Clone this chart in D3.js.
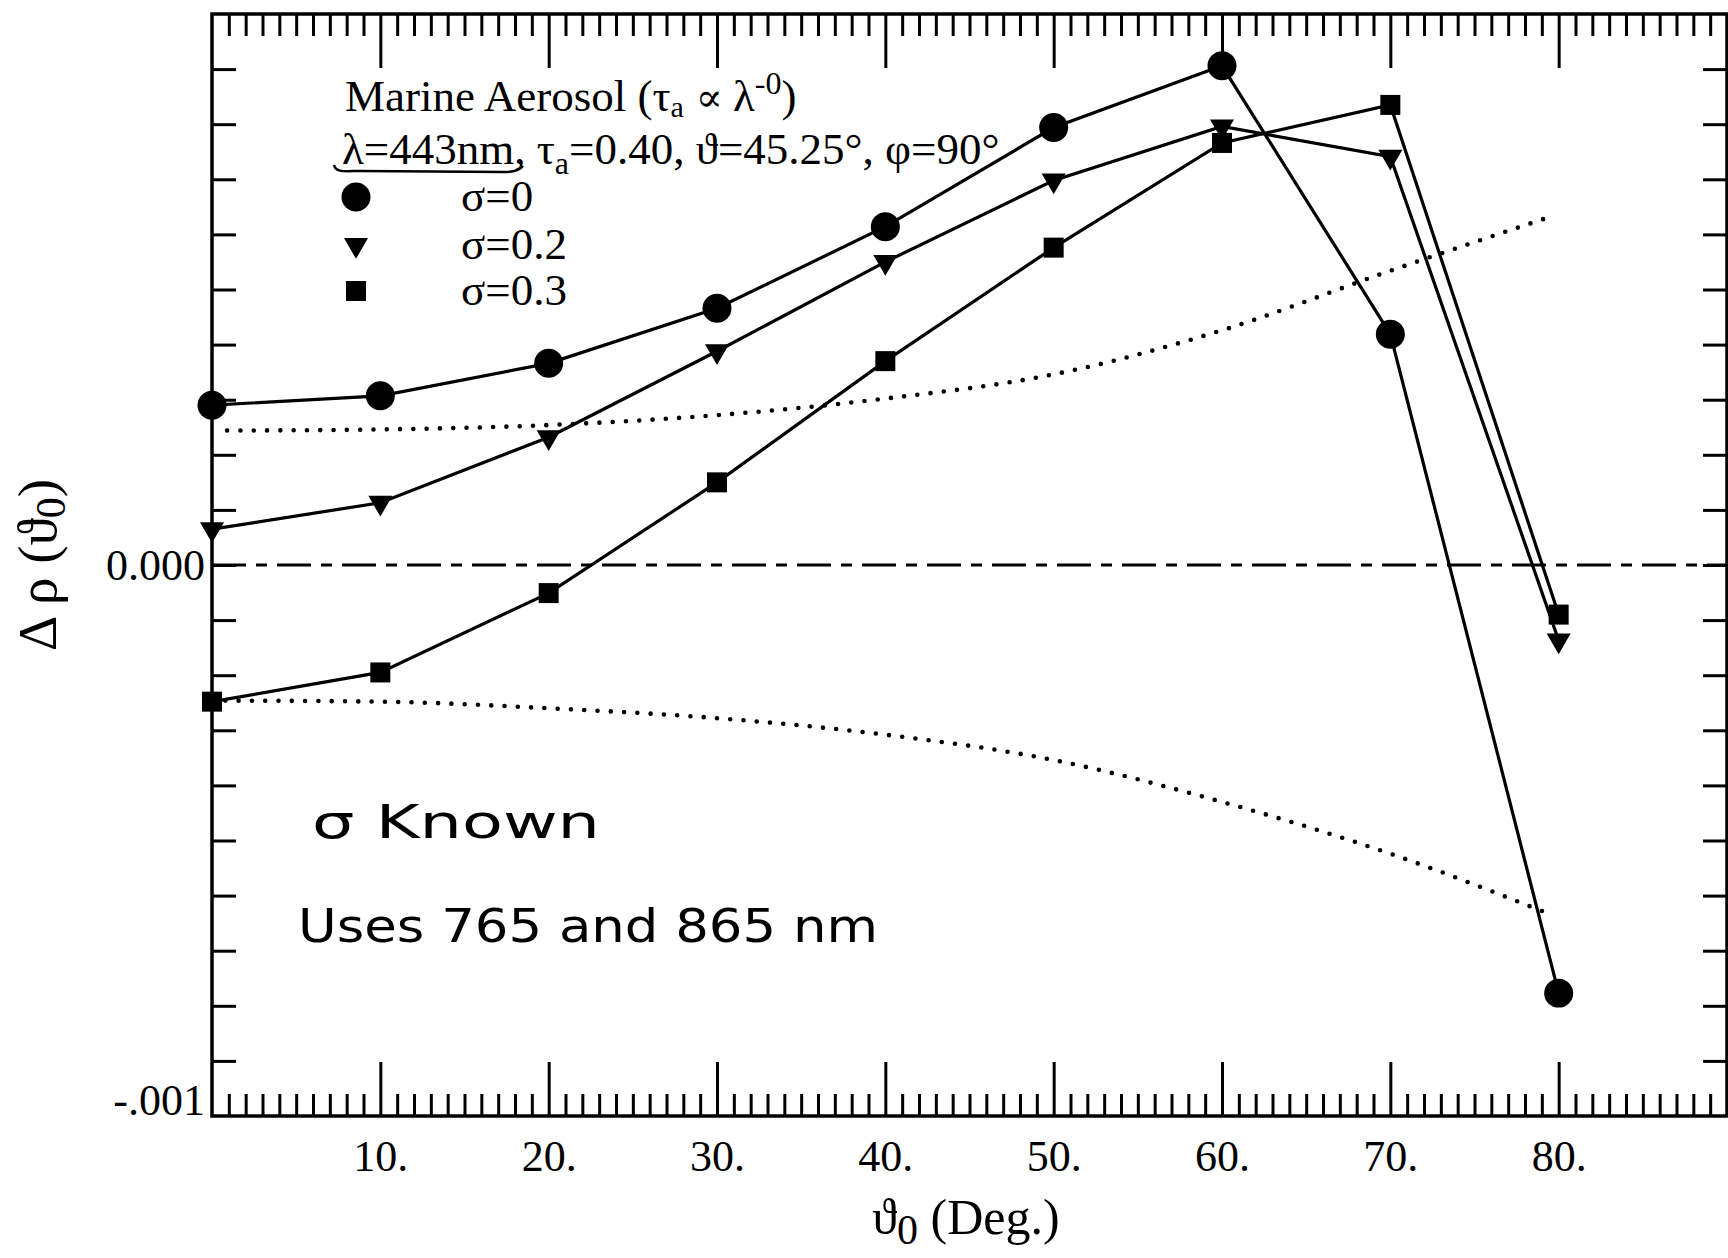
<!DOCTYPE html>
<html><head><meta charset="utf-8">
<script src="https://cdn.jsdelivr.net/npm/d3@7"></script>
<style>body{margin:0;background:#fff} svg{display:block}</style>
</head><body>
<svg id="chart" width="1728" height="1258"></svg>
<script>
// ---------- data ----------
const angles = [0, 10, 20, 30, 40, 50, 60, 70, 80];
const sigma0  = [0.000290, 0.000307, 0.000366, 0.000466, 0.000614, 0.000794, 0.000906, 0.000419, -0.000777];
const sigma02 = [0.000065, 0.000113, 0.000232, 0.000388, 0.000550, 0.000698, 0.000796, 0.000741, -0.000137];
const sigma03 = [-0.000248, -0.000195, -0.000051, 0.000150, 0.000370, 0.000576, 0.000766, 0.000835, -0.000090];
const boundAngles = [0.9, 10, 20, 30, 40, 50, 60, 70, 79.5];
const upperBound = [0.000244, 0.000246, 0.000254, 0.000272, 0.000302, 0.000346, 0.000426, 0.000534, 0.000632];
const lowerBoundAngles = [0, 10, 20, 30, 40, 50, 60, 70, 79.5];
const lowerBound = [-0.000246, -0.000248, -0.000260, -0.000278, -0.000308, -0.000354, -0.000430, -0.000524, -0.000634];
const xMajorTicks = [10, 20, 30, 40, 50, 60, 70, 80];
const xTickLabels = ["10.", "20.", "30.", "40.", "50.", "60.", "70.", "80."];
const yTickValues = [-0.0009,-0.0008,-0.0007,-0.0006,-0.0005,-0.0004,-0.0003,-0.0002,-0.0001,0,0.0001,0.0002,0.0003,0.0004,0.0005,0.0006,0.0007,0.0008,0.0009];
const yLabelValues = [0, -0.001];
const yLabelTexts = ["0.000", "-.001"];
const legendLabels = ["σ=0", "σ=0.2", "σ=0.3"];

// ---------- layout ----------
const svg = d3.select("#chart");
const L = 212, R = 1727, T = 14, B = 1116;
const x = d3.scaleLinear().domain([0, 90]).range([L, R]);
const y = d3.scaleLinear().domain([-0.001, 0.001]).range([B, T]);
const serif = "'Liberation Serif', 'Times New Roman', serif";

const xMinor = d3.range(1, 90).filter(d => d % 10 !== 0);

// top axis
svg.append("g").attr("transform", `translate(0,${T})`)
  .call(d3.axisTop(x).tickValues(xMinor).tickSize(-22).tickFormat(""))
  .call(g => g.select(".domain").remove());
svg.append("g").attr("transform", `translate(0,${T})`)
  .call(d3.axisTop(x).tickValues(xMajorTicks).tickSize(-54).tickFormat(""))
  .call(g => g.select(".domain").remove());
// bottom axis
svg.append("g").attr("transform", `translate(0,${B})`)
  .call(d3.axisBottom(x).tickValues(xMinor).tickSize(-22).tickFormat(""))
  .call(g => g.select(".domain").remove());
svg.append("g").attr("class", "xlab").attr("transform", `translate(0,${B})`)
  .call(d3.axisBottom(x).tickValues(xMajorTicks).tickSize(-54).tickPadding(24)
        .tickFormat((d, i) => xTickLabels[i]))
  .call(g => g.select(".domain").remove());
// left / right axes
svg.append("g").attr("transform", `translate(${L},0)`)
  .call(d3.axisLeft(y).tickValues(yTickValues).tickSize(-24).tickFormat(""))
  .call(g => g.select(".domain").remove());
svg.append("g").attr("transform", `translate(${R},0)`)
  .call(d3.axisRight(y).tickValues(yTickValues).tickSize(-24).tickFormat(""))
  .call(g => g.select(".domain").remove());

svg.selectAll(".tick line").attr("stroke", "#000").attr("stroke-width", 3);
svg.selectAll(".xlab text").attr("font-family", serif).attr("font-size", 44).attr("fill", "#000");

// frame
svg.append("rect").attr("x", L).attr("y", T).attr("width", R - L).attr("height", B - T)
  .attr("fill", "none").attr("stroke", "#000").attr("stroke-width", 3.5);

// y labels
svg.selectAll(".ylab").data(yLabelValues).join("text")
  .attr("x", L - 7).attr("y", d => y(d)).attr("dy", (d, i) => i === 0 ? "0.35em" : "-0.02em")
  .attr("text-anchor", "end").attr("font-family", serif).attr("font-size", 44)
  .text((d, i) => yLabelTexts[i]);

// zero dash-dot line
svg.append("line").attr("x1", L).attr("x2", R).attr("y1", y(0)).attr("y2", y(0))
  .attr("stroke", "#000").attr("stroke-width", 3.2).attr("stroke-dasharray", "34 10 11 10");

// dotted bounds
const curve = d3.line().curve(d3.curveMonotoneX);
svg.append("path")
  .attr("d", curve(boundAngles.map((a, i) => [x(a), y(upperBound[i])])))
  .attr("fill", "none").attr("stroke", "#000").attr("stroke-width", 4.6)
  .attr("stroke-linecap", "round").attr("stroke-dasharray", "0 13.3");
svg.append("path")
  .attr("d", curve(lowerBoundAngles.map((a, i) => [x(a), y(lowerBound[i])])))
  .attr("fill", "none").attr("stroke", "#000").attr("stroke-width", 4.6)
  .attr("stroke-linecap", "round").attr("stroke-dasharray", "0 13.3");

// series
const lin = d3.line();
const series = [
  {vals: sigma0, sym: d3.symbol().type(d3.symbolCircle).size(660), rot: 0},
  {vals: sigma02, sym: d3.symbol().type(d3.symbolTriangle).size(250), rot: 180},
  {vals: sigma03, sym: d3.symbol().type(d3.symbolSquare).size(400), rot: 0}
];
series.forEach(s => {
  svg.append("path").attr("d", lin(angles.map((a, i) => [x(a), y(s.vals[i])])))
    .attr("fill", "none").attr("stroke", "#000").attr("stroke-width", 3.2);
});
series.forEach(s => {
  svg.append("g").selectAll("path").data(angles).join("path")
    .attr("d", s.sym())
    .attr("transform", (a, i) => `translate(${x(a)},${y(s.vals[i])}) rotate(${s.rot})`)
    .attr("fill", "#000");
});

// legend
const leg = svg.append("g").attr("font-family", serif).attr("font-size", 45).attr("fill", "#000");
const t1 = leg.append("text").attr("x", 345).attr("y", 111);
t1.append("tspan").text("Marine Aerosol (τ");
t1.append("tspan").attr("font-size", 30).attr("baseline-shift", "-6").text("a");
t1.append("tspan").attr("dx", 12).attr("font-family", "'DejaVu Serif', serif").attr("font-size", 40).text("∝");
t1.append("tspan").attr("dx", 10).text("λ");
t1.append("tspan").attr("font-size", 32).attr("baseline-shift", "17").text("-0");
t1.append("tspan").text(")");
const t2 = leg.append("text").attr("x", 342).attr("y", 164);
t2.append("tspan").text("λ=443nm, τ");
t2.append("tspan").attr("font-size", 32).attr("baseline-shift", "-10").text("a");
t2.append("tspan").text("=0.40, ϑ=45.25°, φ=90°");
// hand-drawn underline
svg.append("path").attr("d", "M334,165 C336,173 345,171 360,171 L505,172 C515,172 520,170 523,166")
  .attr("fill", "none").attr("stroke", "#000").attr("stroke-width", 2.5);

const legY = [197, 245, 291];
series.forEach((s, i) => {
  svg.append("path").attr("d", s.sym())
    .attr("transform", `translate(356,${legY[i]}) rotate(${s.rot})`).attr("fill", "#000");
  leg.append("text").attr("x", 461).attr("y", legY[i] + 14).text(legendLabels[i]);
});

// axis titles
const xt = svg.append("text").attr("x", 966).attr("y", 1234).attr("text-anchor", "middle")
  .attr("font-family", serif).attr("font-size", 50);
xt.append("tspan").text("ϑ");
xt.append("tspan").attr("font-size", 42).attr("baseline-shift", "-10").text("0");
xt.append("tspan").text(" (Deg.)");

const yt = svg.append("text").attr("transform", "translate(56,565) rotate(-90)").attr("text-anchor", "middle")
  .attr("font-family", serif).attr("font-size", 55);
yt.append("tspan").text("Δ ρ (ϑ");
yt.append("tspan").attr("font-size", 42).attr("baseline-shift", "-9").text("0");
yt.append("tspan").text(")");

// handwritten notes
const hand = "'DejaVu Sans', sans-serif";
svg.append("text").attr("x", 312).attr("y", 838).attr("font-family", hand).attr("font-size", 46)
  .attr("textLength", 288).attr("lengthAdjust", "spacingAndGlyphs").text("σ Known");
svg.append("text").attr("x", 298).attr("y", 942).attr("font-family", hand).attr("font-size", 46)
  .attr("textLength", 580).attr("lengthAdjust", "spacingAndGlyphs").text("Uses 765 and 865 nm");
</script>
</body></html>
